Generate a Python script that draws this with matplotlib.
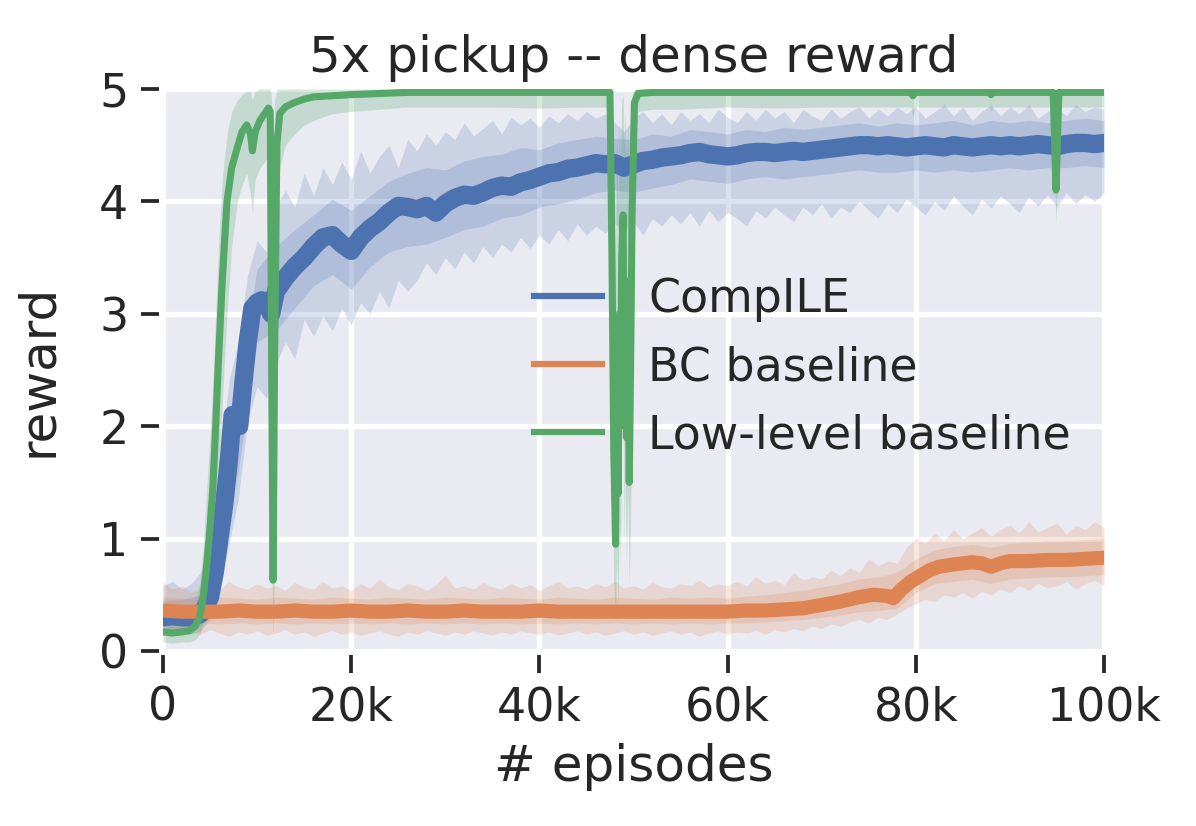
import numpy as np
import matplotlib
matplotlib.use("Agg")
import matplotlib.pyplot as plt
from matplotlib.lines import Line2D

# ---- data (episodes in thousands, reward) ----
series_names = ["CompILE", "BC baseline", "Low-level baseline"]
colors = ["#4C72B0", "#DD8452", "#55A868"]

x_ticks = [0, 20000, 40000, 60000, 80000, 100000]
x_tick_labels = ["0", "20k", "40k", "60k", "80k", "100k"]
y_ticks = [0, 1, 2, 3, 4, 5]

band_k = np.arange(0, 101)        # outer band sampled every 1k episodes
inner_k = np.arange(0, 101, 2)    # inner band sampled every 2k episodes

# CompILE
compile_k = [0, 1, 2, 3, 4, 4.5, 5, 5.5, 6, 6.5, 7, 7.4, 7.8, 8.1, 8.5, 9, 9.5, 10, 10.5, 11, 11.5,
             12, 13, 14, 15, 16, 17, 18, 19, 20, 21, 22, 23, 24, 25, 26, 27, 28, 29, 30,
             31, 32, 33, 34, 35, 36, 37, 38, 39, 40, 41, 42, 43, 44, 45, 46, 47, 48, 49, 50,
             51, 52, 53, 54, 55, 56, 57, 58, 59, 60, 61, 62, 63, 64, 65, 66, 67, 68, 69, 70,
             71, 72, 73, 74, 75, 76, 77, 78, 79, 80, 81, 82, 83, 84, 85, 86, 87, 88, 89, 90,
             91, 92, 93, 94, 95, 96, 97, 98, 99, 100]
compile_mean = [.30, .31, .30, .30, .33, .38, .48, .70, 1.00, 1.30, 1.70, 2.10, 2.02, 2.00, 2.35, 2.75, 3.05, 3.10, 3.12, 3.08, 3.00,
                3.20, 3.32, 3.42, 3.50, 3.60, 3.68, 3.70, 3.62, 3.56, 3.68, 3.76, 3.82, 3.90, 3.96, 3.95, 3.93, 3.96, 3.90, 3.98,
                4.03, 4.06, 4.05, 4.08, 4.12, 4.14, 4.13, 4.17, 4.19, 4.22, 4.25, 4.26, 4.29, 4.30, 4.32, 4.34, 4.33, 4.34, 4.30, 4.33,
                4.36, 4.37, 4.39, 4.40, 4.41, 4.43, 4.44, 4.42, 4.41, 4.40, 4.41, 4.43, 4.44, 4.44, 4.43, 4.44, 4.45, 4.44, 4.45, 4.46,
                4.47, 4.48, 4.49, 4.50, 4.50, 4.49, 4.50, 4.49, 4.48, 4.49, 4.50, 4.49, 4.48, 4.50, 4.49, 4.48, 4.49, 4.50, 4.49, 4.50,
                4.49, 4.50, 4.51, 4.50, 4.49, 4.51, 4.52, 4.52, 4.51, 4.52]
compile_hi = [.58, .62, .55, .60, .70, 1.05, 1.60, 2.40, 2.75, 3.35, 3.65, 3.55, 3.95, 4.10, 3.95, 4.25, 4.05, 4.30, 4.15, 4.35,
              4.20, 4.45, 4.25, 4.40, 4.50, 4.30, 4.55, 4.45, 4.60, 4.50, 4.62, 4.55, 4.70, 4.58, 4.65, 4.72, 4.60, 4.75, 4.68, 4.74,
              4.66, 4.76, 4.70, 4.78, 4.72, 4.80, 4.74, 4.78, 4.70, 4.62, 4.74, 4.80, 4.70, 4.78, 4.68, 4.80, 4.72, 4.78, 4.70, 4.82,
              4.75, 4.70, 4.80, 4.72, 4.82, 4.74, 4.80, 4.70, 4.82, 4.76, 4.72, 4.82, 4.74, 4.80, 4.84, 4.74, 4.82, 4.76, 4.84, 4.78,
              4.84, 4.74, 4.80, 4.86, 4.76, 4.84, 4.72, 4.80, 4.86, 4.76, 4.84, 4.78, 4.86, 4.74, 4.80, 4.84, 4.76, 4.86, 4.80, 4.84,
              4.82]
compile_lo = [.15, .14, .16, .15, .18, .28, .55, .95, 1.35, 2.05, 2.35, 2.25, 2.55, 2.75, 2.60, 2.95, 2.80, 2.98, 2.85, 3.05,
              2.90, 3.10, 3.00, 3.20, 3.05, 3.30, 3.20, 3.30, 3.45, 3.35, 3.50, 3.40, 3.55, 3.45, 3.60, 3.50, 3.62, 3.55, 3.68, 3.58,
              3.70, 3.62, 3.75, 3.65, 3.80, 3.70, 3.78, 3.72, 3.80, 3.75, 3.82, 3.70, 3.85, 3.78, 3.88, 3.80, 3.90, 3.78, 3.92, 3.82,
              3.90, 3.85, 3.78, 3.92, 3.85, 3.95, 3.88, 3.82, 3.95, 3.88, 3.98, 3.85, 3.95, 3.90, 4.00, 3.92, 3.85, 3.98, 3.90, 4.02,
              3.95, 3.88, 4.00, 3.92, 4.05, 3.96, 3.88, 4.02, 3.94, 4.05, 3.98, 3.90, 4.04, 3.96, 4.06, 3.95, 4.08, 3.98, 4.06, 4.00,
              4.08]
compile_in_hi = [.45, .46, .50, 1.30, 2.40, 3.40, 3.60, 3.75, 3.88, 4.02, 3.92, 4.05, 4.18, 4.25, 4.30, 4.28, 4.36, 4.40, 4.42, 4.48,
                 4.46, 4.52, 4.55, 4.58, 4.56, 4.55, 4.60, 4.58, 4.64, 4.62, 4.60, 4.64, 4.62, 4.66, 4.64, 4.66, 4.68, 4.70, 4.67, 4.70,
                 4.68, 4.70, 4.72, 4.68, 4.72, 4.70, 4.72, 4.70, 4.72, 4.74, 4.72]
compile_in_lo = [.20, .20, .22, .70, 1.60, 2.75, 2.85, 3.05, 3.25, 3.35, 3.22, 3.42, 3.55, 3.60, 3.62, 3.68, 3.75, 3.78, 3.85, 3.88,
                 3.95, 3.98, 4.02, 4.08, 4.10, 4.08, 4.12, 4.15, 4.20, 4.18, 4.16, 4.20, 4.22, 4.20, 4.22, 4.24, 4.26, 4.28, 4.26, 4.26,
                 4.28, 4.26, 4.28, 4.26, 4.28, 4.30, 4.28, 4.30, 4.30, 4.32, 4.30]

# BC baseline
bc_k = [0, 2, 4, 6, 8, 10, 12, 14, 16, 18, 20, 22, 24, 26, 28, 30, 32, 34, 36, 38, 40, 42, 44, 46, 48, 50,
        52, 54, 56, 58, 60, 62, 64, 66, 68, 70, 72, 74, 75.5, 77, 77.6, 78.5, 79.5, 80.5, 81.5, 82.5, 84, 86,
        87, 88, 89, 90, 92, 94, 96, 98, 100]
bc_mean = [.36, .35, .35, .35, .36, .35, .35, .36, .35, .35, .36, .35, .35, .36, .35, .35, .36, .35, .35, .35, .36, .35, .35, .35, .35, .35,
           .35, .35, .35, .35, .35, .36, .36, .37, .38, .41, .44, .48, .50, .49, .47, .55, .62, .67, .72, .75, .77, .79,
           .78, .75, .78, .80, .80, .81, .81, .82, .83]
bc_hi = [.62, .55, .58, .52, .56, .60, .54, .62, .57, .55, .60, .56, .58, .54, .61, .57, .55, .62, .56, .58,
         .54, .60, .56, .64, .57, .55, .60, .58, .54, .59, .68, .56, .58, .55, .61, .57, .55, .60, .56, .59,
         .54, .58, .62, .56, .58, .55, .60, .57, .62, .56, .58, .55, .61, .57, .56, .60, .58, .63, .57, .60,
         .58, .62, .58, .66, .60, .63, .59, .70, .63, .66, .64, .72, .67, .74, .70, .82, .76, .80, .78, .92,
         1.00, .96, 1.05, .98, 1.08, 1.00, 1.05, 1.10, 1.02, 1.08, 1.12, 1.05, 1.15, 1.06, 1.10, 1.14, 1.04, 1.12, 1.08, 1.15,
         1.10]
bc_lo = [.15, .18, .14, .17, .15, .19, .16, .13, .17, .15, .18, .14, .16, .19, .15, .17, .13, .16, .18, .15,
         .17, .14, .16, .18, .15, .13, .17, .15, .18, .16, .14, .17, .15, .18, .16, .14, .17, .15, .18, .16,
         .15, .17, .14, .16, .18, .15, .17, .14, .16, .18, .15, .17, .14, .16, .18, .15, .17, .13, .16, .18,
         .15, .17, .16, .18, .15, .19, .17, .20, .18, .22, .20, .24, .22, .26, .28, .25, .30, .28, .33, .38,
         .42, .46, .44, .50, .48, .52, .47, .53, .50, .55, .52, .58, .54, .60, .56, .58, .62, .55, .60, .63,
         .58]
bc_in_hi = [.48, .47, .46, .48, .47, .46, .48, .47, .46, .48, .47, .46, .48, .47, .46, .48, .47, .46, .48, .47,
            .46, .48, .47, .46, .48, .47, .46, .48, .47, .48, .47, .49, .50, .52, .54, .57, .60, .64, .66, .70,
            .82, .90, .93, .95, .92, .96, .97, .98, .98, .99, 1.00]
bc_in_lo = [.25, .24, .25, .24, .25, .24, .25, .24, .25, .24, .25, .24, .25, .24, .25, .24, .25, .24, .25, .24,
            .25, .24, .25, .24, .25, .24, .25, .24, .25, .24, .25, .25, .26, .27, .28, .30, .32, .35, .36, .38,
            .52, .60, .62, .64, .60, .64, .65, .66, .66, .67, .68]

# Low-level baseline
low_k = [0, 1, 2, 2.8, 3.4, 3.9, 4.3, 4.6, 5.0, 5.3, 5.6, 5.9, 6.3, 6.8, 7.3, 7.9, 8.4, 8.9, 9.3, 9.5,
         9.8, 10.3, 10.8, 11.2, 11.4, 11.55, 11.7, 11.85, 12.1, 12.4, 13, 14, 15, 16, 18, 20, 23, 26, 30, 35,
         40, 45, 47.5, 47.7, 47.9, 48.1, 48.2, 48.35, 48.5, 48.6, 48.75, 48.9, 49.0, 49.1, 49.25, 49.4, 49.55, 49.7, 49.85, 50.1,
         50.5, 52, 55, 60, 65, 70, 75, 79.5, 79.7, 79.9, 85, 87.8, 88.0, 88.2, 90, 94.6, 94.9, 95.2, 97, 100]
low_mean = [.17, .16, .17, .18, .22, .30, .50, .72, 1.10, 1.45, 2.00, 2.60, 3.30, 4.00, 4.30, 4.48, 4.62, 4.68, 4.60, 4.45,
            4.62, 4.72, 4.78, 4.83, 4.80, 2.50, 0.63, 2.50, 4.50, 4.78, 4.84, 4.88, 4.91, 4.93, 4.94, 4.95, 4.96, 4.97, 4.97, 4.97,
            4.97, 4.97, 4.97, 3.60, 1.80, 0.95, 2.60, 1.40, 3.00, 2.00, 3.50, 3.88, 2.20, 3.30, 1.90, 3.20, 1.50, 2.60, 3.90, 4.88,
            4.96, 4.97, 4.97, 4.97, 4.97, 4.97, 4.97, 4.97, 4.94, 4.97, 4.97, 4.97, 4.95, 4.97, 4.97, 4.97, 4.10, 4.97, 4.97, 4.97]
low_hi = [.30, .28, .30, .32, .40, .60, .95, 1.40, 1.90, 2.40, 3.00, 3.60, 4.20, 4.60, 4.80, 4.90, 4.95, 4.98, 4.98, 4.90,
          4.98, 5.00, 5.00, 5.00, 5.00, 4.90, 3.50, 4.90, 5.00, 5.00, 5.00, 5.00, 5.00, 5.00, 5.00, 5.00, 5.00, 5.00, 5.00, 5.00,
          5.00, 5.00, 5.00, 4.90, 4.20, 3.40, 4.60, 4.00, 4.70, 4.30, 4.90, 4.95, 4.50, 4.80, 4.30, 4.70, 3.90, 4.60, 4.95, 5.00,
          5.00, 5.00, 5.00, 5.00, 5.00, 5.00, 5.00, 5.00, 5.00, 5.00, 5.00, 5.00, 5.00, 5.00, 5.00, 5.00, 4.60, 5.00, 5.00, 5.00]
low_lo = [.08, .07, .08, .08, .10, .15, .25, .35, .55, .75, 1.10, 1.50, 2.20, 3.00, 3.60, 4.00, 4.15, 4.25, 4.05, 3.90,
          4.20, 4.30, 4.35, 4.40, 4.30, 0.80, 0.12, 0.80, 3.80, 4.30, 4.50, 4.60, 4.68, 4.72, 4.78, 4.80, 4.82, 4.84, 4.84, 4.84,
          4.83, 4.84, 4.84, 2.00, 0.60, 0.28, 0.90, 0.40, 1.20, 0.80, 1.80, 2.40, 0.90, 1.60, 0.80, 1.40, 0.57, 1.20, 2.60, 4.50,
          4.80, 4.82, 4.82, 4.84, 4.83, 4.84, 4.84, 4.84, 4.75, 4.84, 4.84, 4.84, 4.80, 4.84, 4.84, 4.84, 3.77, 4.84, 4.84, 4.84]


def ep(k):
    return np.asarray(k) * 1000


plt.rcParams["font.family"] = ["DejaVu Sans"]
plt.rcParams["text.color"] = ".15"
plt.rcParams["axes.labelcolor"] = ".15"

fig = plt.figure(figsize=(1196 / 300, 826 / 300), dpi=300)
ax = fig.add_axes([163 / 1196, 1 - 651 / 826, (1104 - 163) / 1196, (651 - 89) / 826])
ax.set_facecolor("#EAEAF2")
ax.grid(True, color="white", linewidth=1.25)
ax.set_axisbelow(True)

bands = [
    (compile_lo, compile_hi, compile_in_lo, compile_in_hi),
    (bc_lo, bc_hi, bc_in_lo, bc_in_hi),
]
lines = [(compile_k, compile_mean, 4.4), (bc_k, bc_mean, 3.4)]

for i in range(2):
    lo, hi, ilo, ihi = bands[i]
    ax.fill_between(ep(band_k), lo, hi, color=colors[i], alpha=0.2, linewidth=0)
    ax.fill_between(ep(inner_k), ilo, ihi, color=colors[i], alpha=0.2, linewidth=0)
    k, m, lw = lines[i]
    ax.plot(ep(k), m, color=colors[i], linewidth=lw, solid_joinstyle="round")

ax.fill_between(ep(low_k), low_lo, low_hi, color=colors[2], alpha=0.25, linewidth=0)
ax.plot(ep(low_k), low_mean, color=colors[2], linewidth=1.7)

ax.set_xlim(0, 100000)
ax.set_ylim(0, 5)
ax.set_xticks(x_ticks)
ax.set_xticklabels(x_tick_labels)
ax.set_yticks(y_ticks)

for s in ax.spines.values():
    s.set_color("none")
ax.spines["left"].set_position(("outward", 1.0))
ax.spines["bottom"].set_position(("outward", 1.0))
ax.tick_params(direction="out", length=4.3, width=0.9, color=".15",
               labelsize=11, labelcolor=".15", pad=3)

ax.set_xlabel("# episodes", fontsize=12, labelpad=3)
ax.set_ylabel("reward", fontsize=12, labelpad=9)
ax.set_title("5x pickup -- dense reward", fontsize=12, pad=4)

handles = [Line2D([0], [0], color=c, linewidth=1.5) for c in colors]
ax.legend(handles, series_names, loc="center left", bbox_to_anchor=(0.350, 0.504),
          frameon=False, fontsize=11, handlelength=1.5, handletextpad=1.0)

fig.savefig("out.png", dpi=300)
